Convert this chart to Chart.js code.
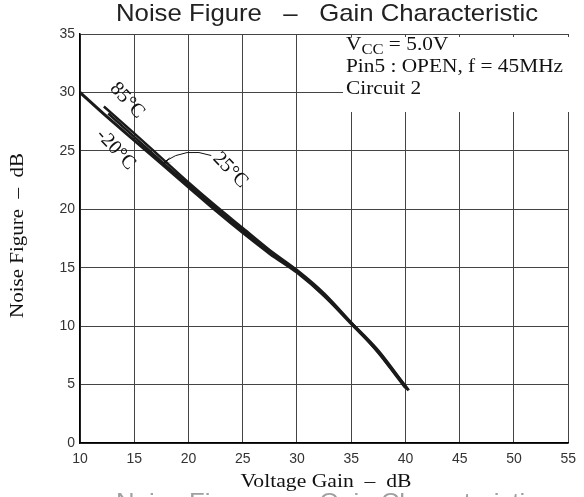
<!DOCTYPE html>
<html>
<head>
<meta charset="utf-8">
<script src="https://cdn.jsdelivr.net/npm/chart.js@4/dist/chart.umd.min.js"></script>
<style>
  html, body { margin: 0; padding: 0; background: #fff; }
  #wrap { width: 584px; height: 497px; position: relative; }
</style>
</head>
<body>
<div id="wrap"><canvas id="nf-gain"></canvas></div>
<script>
/* ---------- data: noise figure vs voltage gain ---------- */
const gain25 = [10, 12.5, 15, 17.5, 20, 22.5, 25, 27.5, 30, 32.5, 35, 37.5, 38.5, 40.3];
const nf25   = [30, 27.9, 25.9, 23.9, 21.9, 19.9, 18.0, 16.2, 14.6, 12.6, 10.2, 7.8, 6.6, 4.5];

const gain85 = [12.2, 15, 17.5, 20, 22.5, 25, 27.5, 30, 32.5, 35, 37.5, 40.0];
const nf85   = [28.8, 26.5, 24.4, 22.3, 20.3, 18.4, 16.5, 14.8, 12.8, 10.3, 7.7, 4.7];

const gainM20 = [12.6, 15, 17.5, 20, 22.5, 25, 27.5, 30, 32.5, 35, 37.5, 40.2];
const nfM20   = [28.2, 26.2, 24.1, 22.1, 20.1, 18.2, 16.3, 14.7, 12.6, 10.3, 7.9, 4.6];

const xTicks = [10, 15, 20, 25, 30, 35, 40, 45, 50, 55];
const yTicks = [0, 5, 10, 15, 20, 25, 30, 35];

const condLines = ['= 5.0V', 'Pin5 : OPEN, f = 45MHz', 'Circuit 2'];
const titleText = 'Noise Figure   \u2013   Gain Characteristic';
const xTitle = 'Voltage Gain  \u2013  dB';
const yTitle = 'Noise Figure  \u2013  dB';

const SANS = "'Liberation Sans', Arial, sans-serif";
const SERIF = "'Liberation Serif', 'Times New Roman', serif";
const INK = '#1a1a1a';

const toPts = (xs, ys) => xs.map((x, i) => ({ x, y: ys[i] }));

function curve(label, xs, ys, width) {
  return {
    label,
    data: toPts(xs, ys),
    showLine: true,
    borderColor: INK,
    borderWidth: width,
    pointRadius: 0,
    cubicInterpolationMode: 'monotone',
    fill: false,
  };
}

// text squeezed/stretched along its run to a given width
function fitText(ctx, text, x, y, font, width, opts = {}) {
  ctx.save();
  ctx.font = font;
  const k = width / ctx.measureText(text).width;
  ctx.translate(x, y);
  if (opts.rotate) ctx.rotate(opts.rotate);
  ctx.scale(k, 1);
  ctx.textAlign = 'center';
  ctx.textBaseline = 'alphabetic';
  ctx.fillStyle = opts.color || '#111';
  ctx.fillText(text, 0, 0);
  ctx.restore();
}

/* ---------- titles, conditions box, temperature labels ---------- */
const annotations = {
  id: 'annotations',
  afterDatasetsDraw(chart) {
    const { ctx, scales: { x, y } } = chart;
    ctx.save();

    fitText(ctx, titleText, 327, 21, '24px ' + SANS, 422, { color: '#222' });
    fitText(ctx, xTitle, 326, 487, '18px ' + SERIF, 171);
    fitText(ctx, yTitle, 23, 235.5, '18px ' + SERIF, 165, { rotate: -Math.PI / 2 });

    // white box over the grid in the upper right corner
    ctx.fillStyle = '#fff';
    ctx.fillRect(343, 37, 227, 75);
    ctx.font = '18px ' + SERIF;
    const k = 217 / ctx.measureText(condLines[1]).width;
    ctx.translate(346, 0);
    ctx.scale(k, 1);
    ctx.fillStyle = '#111';
    ctx.textAlign = 'left';
    ctx.textBaseline = 'alphabetic';
    ctx.fillText('V', 0, 50);
    const vw = ctx.measureText('V').width;
    ctx.font = '14px ' + SERIF;
    ctx.fillText('CC', vw, 54);
    const cw = ctx.measureText('CC').width;
    ctx.font = '18px ' + SERIF;
    ctx.fillText(' ' + condLines[0], vw + cw, 50);
    ctx.fillText(condLines[1], 0, 72);
    ctx.fillText(condLines[2], 0, 94);
    ctx.setTransform(1, 0, 0, 1, 0, 0);

    // rotated temperature labels
    const tag = (text, gx, gy, deg) => {
      ctx.save();
      ctx.translate(x.getPixelForValue(gx), y.getPixelForValue(gy));
      ctx.rotate(deg * Math.PI / 180);
      ctx.font = '20px ' + SERIF;
      ctx.textAlign = 'center';
      ctx.textBaseline = 'middle';
      ctx.fillStyle = '#111';
      ctx.fillText(text, 0, 0);
      ctx.restore();
    };
    tag('85\u00B0C', 14.35, 29.3, 47);
    tag('-20\u00B0C', 13.3, 25.1, 47);
    tag('25\u00B0C', 23.85, 23.35, 46);

    // leader arrow from the 25°C label to the curves
    const sx = x.getPixelForValue(22.1), sy = y.getPixelForValue(24.6);
    const ex = x.getPixelForValue(17.6), ey = y.getPixelForValue(23.9);
    ctx.strokeStyle = '#111';
    ctx.lineWidth = 1;
    ctx.beginPath();
    ctx.moveTo(sx, sy);
    ctx.quadraticCurveTo(sx - 25, sy - 9, ex + 2, ey - 2);
    ctx.stroke();
    ctx.beginPath();
    ctx.moveTo(ex, ey);
    ctx.lineTo(ex + 8, ey - 7);
    ctx.lineTo(ex + 4, ey - 1);
    ctx.lineTo(ex + 9, ey - 1);
    ctx.closePath();
    ctx.fillStyle = '#111';
    ctx.fill();

    // faint repeat of the caption, cut by the bottom edge
    fitText(ctx, titleText, 327, 510, '24px ' + SANS, 422, { color: '#a0a0a0' });
    ctx.restore();
  },
};

const ctx = document.getElementById('nf-gain').getContext('2d');
new Chart(ctx, {
  type: 'scatter',
  data: {
    datasets: [
      curve('25\u00B0C', gain25, nf25, 3),
      curve('85\u00B0C', gain85, nf85, 2.5),
      curve('-20\u00B0C', gainM20, nfM20, 2.5),
    ],
  },
  options: {
    responsive: true,
    maintainAspectRatio: false,
    animation: false,
    layout: { padding: { left: 0, right: 13, top: 34, bottom: 0 } },
    plugins: {
      legend: { display: false },
      tooltip: { enabled: false },
      title: { display: false },
    },
    scales: {
      x: {
        type: 'linear',
        min: 10,
        max: 55,
        afterBuildTicks: s => { s.ticks = xTicks.map(v => ({ value: v })); },
        afterFit: s => { s.height = 54; },
        grid: { color: '#444', lineWidth: 1, drawTicks: false },
        border: { color: '#000', width: 1.5 },
        ticks: { color: '#333', font: { family: SANS, size: 14 }, padding: 8, maxRotation: 0 },
      },
      y: {
        type: 'linear',
        min: 0,
        max: 35,
        afterBuildTicks: s => { s.ticks = yTicks.map(v => ({ value: v })); },
        afterFit: s => { s.width = 80; },
        grid: { color: '#444', lineWidth: 1, drawTicks: false },
        border: { color: '#000', width: 1.5 },
        ticks: { color: '#333', font: { family: SANS, size: 14 }, padding: 5 },
      },
    },
  },
  plugins: [annotations],
});
</script>
</body>
</html>
